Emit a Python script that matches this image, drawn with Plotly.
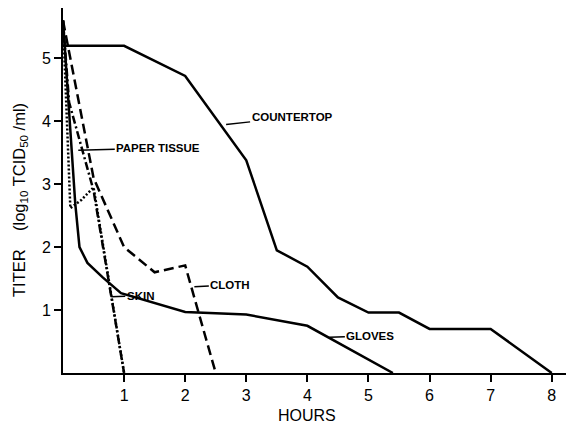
import plotly.graph_objects as go

# Data (hours, log10 TCID50/ml)
countertop_x = [0, 1, 2, 3, 3.5, 4, 4.5, 5, 5.5, 6, 7, 8]
countertop_y = [5.2, 5.2, 4.72, 3.38, 1.95, 1.69, 1.2, 0.96, 0.96, 0.70, 0.70, 0]

gloves_x = [0, 0.2, 0.27, 0.4, 0.65, 0.95, 2, 3, 4, 5.4]
gloves_y = [5.6, 2.7, 2.0, 1.75, 1.52, 1.27, 0.97, 0.93, 0.75, 0]

cloth_x = [0, 0.5, 1.0, 1.5, 2.0, 2.5]
cloth_y = [5.6, 3.1, 2.0, 1.6, 1.71, 0]

tissue_x = [0, 0.1, 0.5, 1.0]
tissue_y = [5.6, 4.3, 2.9, 0]

skin_x = [0, 0.12, 0.3, 0.5, 1.0]
skin_y = [5.6, 2.62, 2.75, 2.95, 0]

x_ticks = [1, 2, 3, 4, 5, 6, 7, 8]
y_ticks = [1, 2, 3, 4, 5]

# label: (text, tip x, tip y, ax, ay)
labels = [
    ("COUNTERTOP", 2.67, 3.95, 66, -7),
    ("PAPER TISSUE", 0.25, 3.54, 80, -2),
    ("SKIN", 0.79, 1.21, 29, -1),
    ("CLOTH", 2.15, 1.37, 36, -2),
    ("GLOVES", 4.36, 0.57, 41, -1),
]

fig = go.Figure()
lw = 2.5
fig.add_trace(go.Scatter(x=countertop_x, y=countertop_y, mode="lines",
                         line=dict(color="black", width=lw)))
fig.add_trace(go.Scatter(x=gloves_x, y=gloves_y, mode="lines",
                         line=dict(color="black", width=lw)))
fig.add_trace(go.Scatter(x=cloth_x, y=cloth_y, mode="lines",
                         line=dict(color="black", width=lw, dash="10px,5px")))
fig.add_trace(go.Scatter(x=tissue_x, y=tissue_y, mode="lines",
                         line=dict(color="black", width=lw, dash="8px,3px,2px,3px")))
fig.add_trace(go.Scatter(x=skin_x, y=skin_y, mode="lines",
                         line=dict(color="black", width=lw, dash="2px,2px")))

for text, tx, ty, ax, ay in labels:
    fig.add_annotation(x=tx, y=ty, text="<b>%s</b>" % text, showarrow=True,
                       arrowhead=0, arrowwidth=1.5, arrowcolor="black",
                       ax=ax, ay=ay, font=dict(size=11.5, color="black",
                                               family="Liberation Sans"))

fig.add_annotation(x=4, y=0, xref="x", yref="paper", yanchor="top", yshift=-32,
                   text="HOURS", showarrow=False,
                   font=dict(size=16, color="black", family="Liberation Sans"))
fig.add_annotation(x=0, y=0.474, xref="paper", yref="paper", xanchor="center",
                   xshift=-43, textangle=-90,
                   text="TITER    (log<sub>10</sub> TCID<sub>50</sub> /ml)",
                   showarrow=False,
                   font=dict(size=16.5, color="black", family="Liberation Sans"))

axis_common = dict(showline=True, linecolor="black", linewidth=2, ticks="outside",
                   tickwidth=2, ticklen=7, tickcolor="black", showgrid=False,
                   zeroline=False, automargin=False,
                   tickfont=dict(size=16, color="black", family="Liberation Sans"))
fig.update_xaxes(range=[0, 8.25], tickvals=x_ticks, **axis_common)
fig.update_yaxes(range=[0, 5.8], tickvals=y_ticks, **axis_common)

# page body has an 8px default margin, so the figure is sized to fit inside it
fig.update_layout(width=566, height=421, showlegend=False,
                  plot_bgcolor="white", paper_bgcolor="white",
                  margin=dict(l=55, r=7, t=0, b=56, autoexpand=False))

fig.write_html("out.html")
